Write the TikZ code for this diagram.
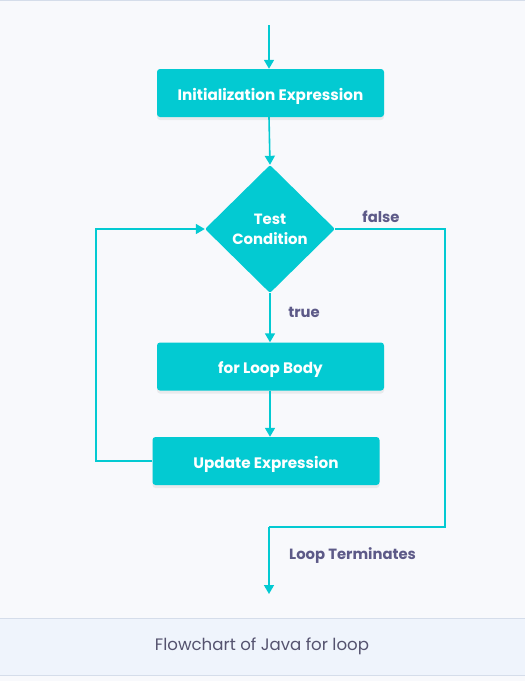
\documentclass[tikz,border=0pt]{standalone}
\usepackage{fontspec}
\setmainfont{Poppins}
\usetikzlibrary{shapes.geometric,arrows.meta,shadows}
\definecolor{teal}{HTML}{03CAD2}
\definecolor{lbl}{HTML}{5D5A88}
\definecolor{cap}{HTML}{55536F}
\definecolor{bg}{HTML}{F8F9FC}
\definecolor{capbg}{HTML}{EFF4FC}
\definecolor{capline}{HTML}{D5DDEA}
\newcommand{\lowtxt}[1]{\raisebox{-3.5pt}{#1}}
\begin{document}
\begin{tikzpicture}[x=1pt,y=-1pt,
  box/.style={fill=teal,rounded corners=3pt,minimum width=227pt,minimum height=48pt,
    text=white,font=\fontsize{15.2}{18}\selectfont\bfseries,inner sep=0pt,
    text height=0.72em,text depth=0pt,
    drop shadow={opacity=0.12,shadow xshift=0pt,shadow yshift=-3pt}},
  dia/.style={diamond,fill=teal,minimum width=130pt,minimum height=128pt,inner sep=0pt,
    rounded corners=2pt,
    text=white,font=\fontsize{14.9}{20}\selectfont\bfseries,align=center},
  flow/.style={draw=teal,line width=1.6pt,-{Triangle[length=9pt,width=10pt]}},
  link/.style={draw=teal,line width=1.6pt},
  lab/.style={text=lbl,font=\fontsize{14.8}{17}\selectfont\bfseries,inner sep=0pt}]
\useasboundingbox (0,0) rectangle (525,681);
\fill[bg] (0,0) rectangle (525,681);
\draw[capline,line width=0.8pt] (0,0.5) -- (525,0.5);
\fill[capbg] (0,618) rectangle (525,675);
\draw[capline,line width=0.8pt] (0,618) -- (525,618) (0,675) -- (525,675);
\node[text=cap,font=\fontsize{16.6}{19}\selectfont] (caption) at (262,646) {Flowchart of Java for loop};

\coordinate (start) at (269,25);
\node[box] (init) at (270.5,93) {\lowtxt{Initialization Expression}};
\node[dia] (test) at (270,229) {Test\\Condition};
\node[box] (body) at (270.5,366.5) {\lowtxt{for Loop Body}};
\node[box] (upd) at (266,461) {\lowtxt{Update Expression}};
\coordinate (fr) at (445,229);
\coordinate (fb) at (445,527);
\coordinate (fl) at (269,527);
\coordinate (endp) at (269,594);
\coordinate (lb) at (96,461);
\coordinate (lt) at (96,229);

\draw[flow] (start) -- (init.north -| start);
\draw[flow] (init.south -| start) -- (test.north);
\draw[flow] (test.south) -- (body.north -| test.south);
\draw[flow] (body.south -| test.south) -- (upd.north -| test.south);
\draw[link] (test.east) -- (fr) -- (fb) -- (fl);
\draw[flow] (fl) -- (endp);
\draw[flow] (upd.west) -- (lb) -- (lt) -- (test.west);

\node[lab] (false) at (381,217) {false};
\node[lab] (true) at (304,312) {true};
\node[lab,anchor=west] (term) at (289,556) {Loop Terminates};
\end{tikzpicture}
\end{document}
